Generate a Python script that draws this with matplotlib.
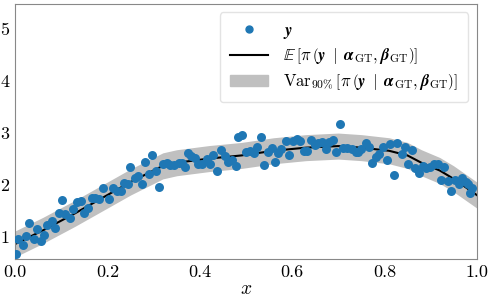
import matplotlib
matplotlib.use('Agg')
import matplotlib.pyplot as plt
from matplotlib.patches import Patch
from matplotlib.lines import Line2D

plt.rcParams['font.family'] = ['cmr10', 'DejaVu Serif']
plt.rcParams['mathtext.fontset'] = 'cm'
plt.rcParams['axes.formatter.use_mathtext'] = True

# observed samples
obs_x = [0.002, 0.007, 0.017, 0.024, 0.031, 0.040, 0.047, 0.056, 0.063, 0.070,
         0.079, 0.087, 0.094, 0.102, 0.108, 0.118, 0.126, 0.133, 0.142, 0.149,
         0.157, 0.166, 0.173, 0.182, 0.190, 0.204, 0.213, 0.221, 0.229, 0.236,
         0.245, 0.249, 0.260, 0.267, 0.274, 0.281, 0.290, 0.297, 0.305, 0.312,
         0.321, 0.328, 0.335, 0.345, 0.354, 0.361, 0.368, 0.375, 0.382, 0.390,
         0.397, 0.405, 0.415, 0.422, 0.429, 0.438, 0.446, 0.455, 0.462, 0.469,
         0.478, 0.483, 0.492, 0.500, 0.509, 0.517, 0.524, 0.532, 0.539, 0.548,
         0.556, 0.563, 0.570, 0.577, 0.586, 0.594, 0.601, 0.610, 0.617, 0.626,
         0.633, 0.640, 0.649, 0.656, 0.664, 0.673, 0.680, 0.688, 0.696, 0.703,
         0.711, 0.718, 0.729, 0.738, 0.743, 0.750, 0.759, 0.766, 0.774, 0.781,
         0.788, 0.797, 0.805, 0.812, 0.821, 0.828, 0.837, 0.844, 0.851, 0.860,
         0.867, 0.875, 0.884, 0.891, 0.898, 0.908, 0.915, 0.922, 0.929, 0.938,
         0.945, 0.952, 0.961, 0.968, 0.976, 0.980, 0.985, 0.990]
obs_y = [0.67, 0.96, 0.85, 1.02, 1.28, 0.96, 1.15, 0.92, 1.04, 1.23,
         1.31, 1.18, 1.47, 1.71, 1.44, 1.37, 1.55, 1.68, 1.69, 1.47,
         1.57, 1.76, 1.76, 1.74, 1.94, 1.74, 1.94, 1.89, 1.89, 2.04,
         2.03, 2.34, 2.13, 2.17, 2.02, 2.44, 2.21, 2.58, 2.28, 1.97,
         2.40, 2.43, 2.38, 2.38, 2.42, 2.42, 2.35, 2.61, 2.56, 2.53,
         2.40, 2.40, 2.51, 2.40, 2.58, 2.28, 2.67, 2.56, 2.45, 2.49,
         2.37, 2.93, 2.96, 2.64, 2.66, 2.61, 2.74, 2.93, 2.38, 2.64,
         2.72, 2.45, 2.62, 2.69, 2.85, 2.58, 2.85, 2.88, 2.85, 2.66,
         2.66, 2.87, 2.77, 2.80, 2.83, 2.69, 2.82, 2.87, 2.64, 3.17,
         2.72, 2.72, 2.69, 2.64, 2.64, 2.69, 2.80, 2.74, 2.43, 2.54,
         2.60, 2.74, 2.49, 2.79, 2.19, 2.81, 2.60, 2.74, 2.40, 2.67,
         2.32, 2.24, 2.37, 2.32, 2.34, 2.40, 2.40, 2.10, 2.34, 2.08,
         1.89, 2.10, 2.03, 2.13, 2.06, 2.02, 1.84, 1.94]

# expected value and 90% band
mean_x = [0.0, 0.06, 0.13, 0.20, 0.25, 0.32, 0.35, 0.42, 0.49, 0.56,
          0.63, 0.70, 0.75, 0.81, 0.85, 0.88, 0.92, 0.95, 1.0]
mean_y = [0.87, 1.13, 1.46, 1.81, 2.06, 2.37, 2.43, 2.51, 2.57, 2.66,
          2.72, 2.75, 2.72, 2.66, 2.57, 2.43, 2.28, 2.12, 1.81]
band_lo = [0.62, 0.88, 1.21, 1.56, 1.81, 2.12, 2.18, 2.26, 2.32, 2.41,
           2.47, 2.50, 2.47, 2.41, 2.32, 2.18, 2.03, 1.87, 1.56]
band_hi = [1.12, 1.38, 1.71, 2.06, 2.31, 2.62, 2.68, 2.76, 2.82, 2.91,
           2.97, 3.00, 2.97, 2.91, 2.82, 2.68, 2.53, 2.37, 2.06]

fig = plt.figure(figsize=(4.88, 3.03), dpi=100)
ax = fig.add_axes([0.031, 0.145, 0.946, 0.842])

ax.fill_between(mean_x, band_lo, band_hi, color='#c0c0c0', lw=0)
ax.plot(mean_x, mean_y, color='black', lw=1.5)
ax.scatter(obs_x, obs_y, s=42, color='#1f77b4', zorder=3, lw=0)

ax.set_xlim(0, 1)
ax.set_ylim(0.58, 5.48)
ax.set_xticks([0.0, 0.2, 0.4, 0.6, 0.8, 1.0])
ax.set_yticks([1, 2, 3, 4, 5])
ax.set_xticklabels(['0.0', '0.2', '0.4', '0.6', '0.8', '1.0'])
ax.set_yticklabels(['1', '2', '3', '4', '5'])
ax.tick_params(length=0, labelsize=13, pad=4)
for s in ax.spines.values():
    s.set_color('#888888')
ax.set_xlabel('$x$', fontsize=14, labelpad=0)

handles = [
    Line2D([], [], marker='o', ls='', color='#1f77b4', markersize=5),
    Line2D([], [], color='black', lw=1.5),
    Patch(color='#c0c0c0'),
]
inner = r'\pi\,\left(\mathbfit{y}\;\mid\;\mathbfit{\alpha}_{\mathrm{GT}}, \mathbfit{\beta}_{\mathrm{GT}}\right)'
labels = [
    r'$\mathbfit{y}$',
    r'$\mathbb{E}\,\left[' + inner + r'\right]$',
    r'$\mathrm{Var}_{90\%}\,\left[' + inner + r'\right]$',
]
ax.legend(handles, labels, loc='upper right', fontsize=12, handlelength=2.3,
          handletextpad=0.9, borderpad=0.6, labelspacing=0.35,
          framealpha=0.8, edgecolor='#dddddd')

fig.savefig('out.png', dpi=100)
